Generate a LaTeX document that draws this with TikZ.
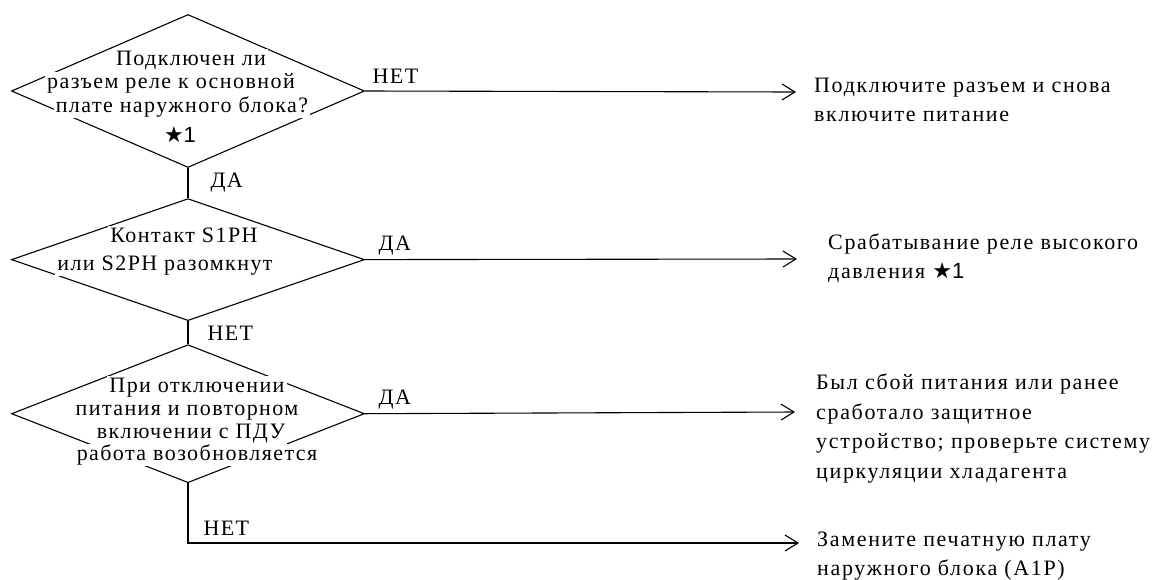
\documentclass[tikz,border=0pt]{standalone}
\usepackage{fontspec}
\setmainfont{Liberation Serif}[LetterSpace=6.5]
\newfontfamily\symfont{DejaVu Sans}
\newfontfamily\numfont{Liberation Sans}
\usetikzlibrary{positioning,shapes.geometric,arrows.meta}
\newcommand\qfont{\fontsize{22}{23.5}\selectfont}
\newcommand\afont{\fontsize{22}{29.5}\selectfont\addfontfeature{LetterSpace=7.5}}
\tikzset{
  question/.style={draw, shape=diamond, inner sep=0pt, minimum width=353pt, line width=1.1pt},
  qline/.style={fill=white, inner xsep=2pt, inner ysep=1pt, text height=15pt, text depth=5pt, anchor=base, font=\qfont},
  answer/.style={align=left, anchor=base west, inner sep=0pt, font=\afont},
  tag/.style={anchor=base west, inner sep=0pt, font=\qfont},
  plain/.style={line width=1.1pt},
  flow/.style={plain, -{Straight Barb[length=13pt,width=16pt,line width=1.1pt]}},
}

\begin{document}
\begin{tikzpicture}[x=1pt,y=-1pt]
\useasboundingbox (0,0) rectangle (1155,579);
%the nodes
\node [question, minimum height=153pt] (dA) at (188,91) {};
\node [question, minimum height=122pt, below=30pt of dA] (dB) {};
\node [question, minimum height=138pt, below=23pt of dB] (dC) {};
\node [qline] (tA1) at (191,65) {Подключен ли};
\node [qline] (tA2) at (171,88) {разъем реле к основной};
\node [qline] (tA3) at (182,112) {плате наружного блока?};
\node [qline] (tA4) at (180,142) {{\symfont ★}{\numfont 1}};
\node [qline] (tB1) at (184,242) {Контакт S1PH};
\node [qline] (tB2) at (165,270) {или S2PH разомкнут};
\node [qline] (tC1) at (197,392) {При отключении};
\node [qline] (tC2) at (187,415) {питания и повторном};
\node [qline] (tC3) at (191,438) {включении с ПДУ};
\node [qline] (tC4) at (197,460) {работа возобновляется};
\coordinate (eA) at (796,92);
\coordinate (eB) at (797,259);
\coordinate (eC) at (795,412);
\coordinate (eD) at (799,543);
% base = last line
\node [answer] (aA) at (814,121.5) {Подключите разъем и снова\\включите питание};
\node [answer] (aB) at (828,278.5) {Срабатывание реле высокого\\давления {\symfont ★}{\numfont 1}};
\node [answer] (aC) at (816,478) {Был сбой питания или ранее\\сработало защитное\\устройство; проверьте систему\\циркуляции хладагента};
\node [answer] (aD) at (817,575.5) {Замените печатную плату\\наружного блока (A1P)};
%drawings of vectors
\draw[flow] (dA.east) -- node[tag, at start, xshift=7pt, yshift=8pt] {НЕТ} (eA);
\draw[flow] (dB.east) -- node[tag, at start, xshift=13pt, yshift=9pt] {ДА} (eB);
\draw[flow] (dC.east) -- node[tag, at start, xshift=13pt, yshift=9pt] {ДА} (eC);
\draw[plain] (dA.south) -- node[tag, xshift=22pt, yshift=-4pt] {ДА} (dB.north);
\draw[plain] (dB.south) -- node[tag, xshift=19pt, yshift=-8pt] {НЕТ} (dC.north);
\draw[flow] (dC.south) |- node[tag, xshift=15pt, yshift=8pt] {НЕТ} (eD);
\end{tikzpicture}
\end{document}
